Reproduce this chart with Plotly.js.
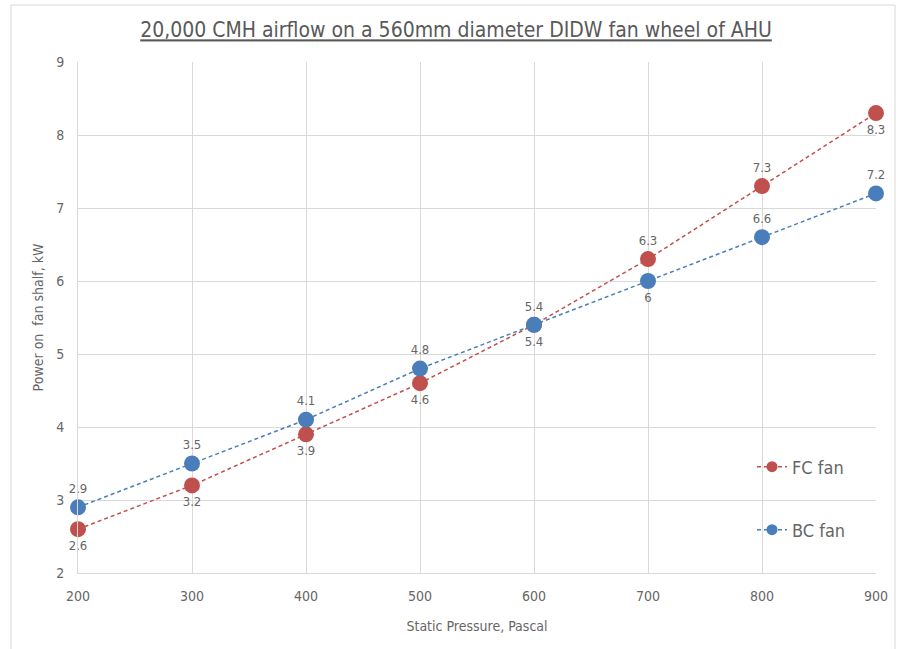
<!DOCTYPE html>
<html>
<head>
<meta charset="utf-8">
<script src="https://cdn.plot.ly/plotly-3.0.1.min.js"></script>
<style>
  html, body { margin: 0; padding: 0; background: #ffffff; }
  #chart { width: 900px; height: 649px; }
</style>
</head>
<body>
<div id="chart"></div>
<script>
// Static pressure (Pa) against fan shaft power (kW)
const pressure = [200, 300, 400, 500, 600, 700, 800, 900];
const fcPower = [2.6, 3.2, 3.9, 4.6, 5.4, 6.3, 7.3, 8.3];
const bcPower = [2.9, 3.5, 4.1, 4.8, 5.4, 6.0, 6.6, 7.2];
const seriesNames = ['FC fan', 'BC fan'];

// Where each value label sits relative to its marker
const fcLabelPos = ['bottom center', 'bottom center', 'bottom center', 'bottom center',
                    'bottom center', 'top center', 'top center', 'bottom center'];
const bcLabelPos = ['top center', 'top center', 'top center', 'top center',
                    'top center', 'bottom center', 'top center', 'top center'];

const FONT = '"Liberation Sans Narrow", "DejaVu Sans Condensed", "Roboto", sans-serif';
const GREY = '#595959';
const LABEL = '#666666';
const GRID = '#d9d9d9';
const RED = '#c0504d';
const BLUE = '#4a7ebb';
const LINE_DASH = '4px,3px';

const W = 900, H = 649;
const M = { l: 78, r: 24, t: 62, b: 76 };
const pw = W - M.l - M.r, ph = H - M.t - M.b;
// chart-area frame in paper coordinates
const px = v => (v - M.l) / pw;
const py = v => (H - M.b - v) / ph;

function series(y, name, color, pos) {
  return {
    x: pressure, y: y, name: name, type: 'scatter', mode: 'lines+markers+text',
    text: y.map(v => String(v)), textposition: pos,
    textfont: { family: FONT, size: 13, color: LABEL },
    line: { color: color, width: 1.5, dash: LINE_DASH },
    marker: { color: color, size: 16 },
    showlegend: false, cliponaxis: false
  };
}

// legend entries with a smaller marker than the plotted points
function legendKey(name, color, legendId) {
  return {
    x: [null], y: [null], name: name, type: 'scatter', mode: 'lines+markers',
    line: { color: color, width: 1.5, dash: LINE_DASH },
    marker: { color: color, size: 11 },
    legend: legendId, showlegend: true, hoverinfo: 'skip'
  };
}

const data = [
  series(fcPower, seriesNames[0], RED, fcLabelPos),
  series(bcPower, seriesNames[1], BLUE, bcLabelPos),
  legendKey(seriesNames[0], RED, 'legend'),
  legendKey(seriesNames[1], BLUE, 'legend2')
];

const legendStyle = {
  bgcolor: 'rgba(0,0,0,0)', borderwidth: 0,
  font: { family: FONT, size: 18, color: LABEL },
  xanchor: 'left', yanchor: 'middle'
};

const layout = {
  width: W, height: H,
  margin: M,
  paper_bgcolor: '#ffffff', plot_bgcolor: '#ffffff',
  font: { family: FONT, color: GREY },
  title: {
    text: '<u>20,000 CMH airflow on a 560mm diameter DIDW fan wheel of AHU</u>',
    font: { family: FONT, size: 21, color: GREY },
    x: px(456), xref: 'paper', xanchor: 'center',
    y: 1 - 30 / H, yanchor: 'middle'
  },
  xaxis: {
    range: [200, 900], dtick: 100, tick0: 200,
    showgrid: true, gridcolor: GRID, gridwidth: 1,
    showline: true, linecolor: GRID, linewidth: 1, mirror: false,
    zeroline: false, ticks: '', ticklabelstandoff: 10,
    tickfont: { family: FONT, size: 14, color: LABEL },
    title: { text: 'Static Pressure, Pascal', font: { family: FONT, size: 14, color: LABEL }, standoff: 18 }
  },
  yaxis: {
    range: [2, 9], dtick: 1,
    showgrid: true, gridcolor: GRID, gridwidth: 1,
    showline: true, linecolor: GRID, linewidth: 1,
    zeroline: false, ticks: '', ticklabelstandoff: 10,
    tickfont: { family: FONT, size: 14, color: LABEL },
    title: { text: 'Power on  fan shalf, kW', font: { family: FONT, size: 14, color: LABEL }, standoff: 9 }
  },
  legend: Object.assign({ x: px(752), y: py(467) }, legendStyle),
  legend2: Object.assign({ x: px(752), y: py(530) }, legendStyle),
  shapes: [{
    type: 'rect', xref: 'paper', yref: 'paper',
    x0: px(11), x1: px(895), y0: py(660), y1: py(5),
    line: { color: GRID, width: 1 }, fillcolor: 'rgba(0,0,0,0)', layer: 'below'
  }]
};

Plotly.newPlot('chart', data, layout, { displayModeBar: false, staticPlot: true });
</script>
</body>
</html>
